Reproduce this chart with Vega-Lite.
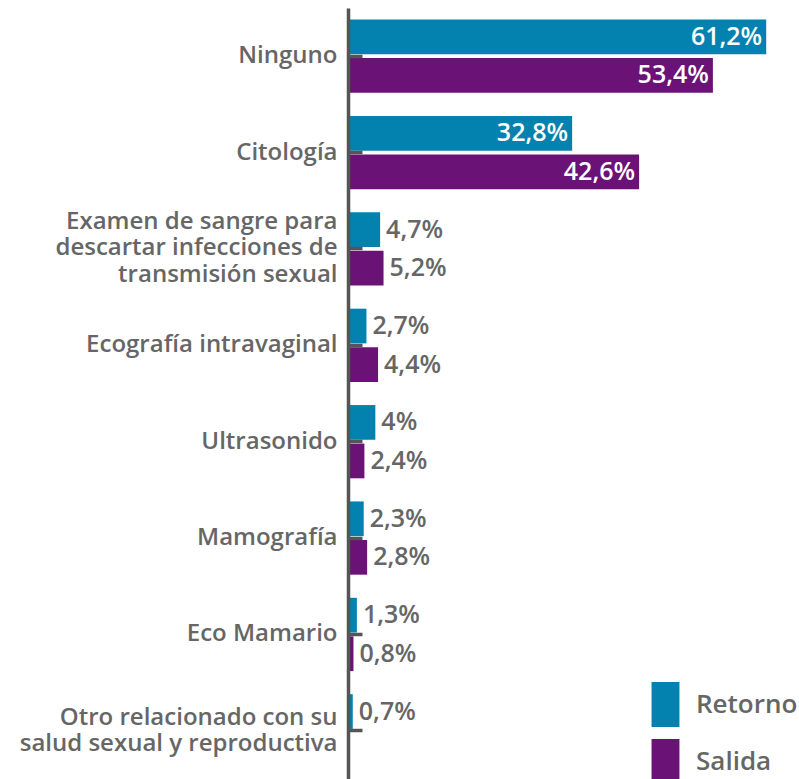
{
  "$schema": "https://vega.github.io/schema/vega-lite/v6.json",
  "width": 451,
  "height": 771,
  "autosize": "none",
  "padding": {"left": 348, "top": 8, "right": 0, "bottom": 0},
  "background": "white",
  "data": {
    "values": [
      {"categoria": "Ninguno", "serie": "Retorno", "valor": 61.2},
      {"categoria": "Ninguno", "serie": "Salida", "valor": 53.4},
      {"categoria": "Citología", "serie": "Retorno", "valor": 32.8},
      {"categoria": "Citología", "serie": "Salida", "valor": 42.6},
      {"categoria": "Examen de sangre para descartar infecciones de transmisión sexual", "serie": "Retorno", "valor": 4.7},
      {"categoria": "Examen de sangre para descartar infecciones de transmisión sexual", "serie": "Salida", "valor": 5.2},
      {"categoria": "Ecografía intravaginal", "serie": "Retorno", "valor": 2.7},
      {"categoria": "Ecografía intravaginal", "serie": "Salida", "valor": 4.4},
      {"categoria": "Ultrasonido", "serie": "Retorno", "valor": 4.0},
      {"categoria": "Ultrasonido", "serie": "Salida", "valor": 2.4},
      {"categoria": "Mamografía", "serie": "Retorno", "valor": 2.3},
      {"categoria": "Mamografía", "serie": "Salida", "valor": 2.8},
      {"categoria": "Eco Mamario", "serie": "Retorno", "valor": 1.3},
      {"categoria": "Eco Mamario", "serie": "Salida", "valor": 0.8},
      {"categoria": "Otro relacionado con su salud sexual y reproductiva", "serie": "Retorno", "valor": 0.7}
    ]
  },
  "transform": [
    {"calculate": "replace(format(datum.valor, '.1~f'), '.', ',') + '%'", "as": "etiqueta"}
  ],
  "encoding": {
    "y": {
      "field": "categoria",
      "type": "nominal",
      "sort": ["Ninguno", "Citología", "Examen de sangre para descartar infecciones de transmisión sexual", "Ecografía intravaginal", "Ultrasonido", "Mamografía", "Eco Mamario", "Otro relacionado con su salud sexual y reproductiva"],
      "scale": {"paddingInner": 0.24, "paddingOuter": 0.12},
      "axis": {
        "title": null,
        "domainColor": "#555555",
        "domainWidth": 3.5,
        "tickColor": "#555555",
        "tickWidth": 3.5,
        "tickSize": -14,
        "labelPadding": 25,
        "labelFont": "Open Sans",
        "labelFontSize": 24,
        "labelFontWeight": 600,
        "labelColor": "#666666",
        "labelLimit": 0,
        "labelLineHeight": 26.5,
        "labelOffset": {
          "condition": [
            {"test": "datum.value == 'Examen de sangre para descartar infecciones de transmisión sexual'", "value": -27},
            {"test": "datum.value == 'Otro relacionado con su salud sexual y reproductiva'", "value": -13}
          ],
          "value": 0
        },
        "zindex": 1,
        "labelExpr": "datum.label == 'Examen de sangre para descartar infecciones de transmisión sexual' ? ['Examen de sangre para', 'descartar infecciones de', 'transmisión sexual'] : datum.label == 'Otro relacionado con su salud sexual y reproductiva' ? ['Otro relacionado con su', 'salud sexual y reproductiva'] : datum.label"
      }
    },
    "yOffset": {"field": "serie", "type": "nominal", "sort": ["Retorno", "Salida"], "scale": {"paddingInner": 0.1}},
    "x": {"field": "valor", "type": "quantitative", "scale": {"domain": [0, 66]}, "axis": null}
  },
  "layer": [
    {
      "mark": {"type": "bar"},
      "encoding": {
        "color": {
          "field": "serie",
          "type": "nominal",
          "scale": {"domain": ["Retorno", "Salida"], "range": ["#0382B0", "#6A1276"]},
          "legend": {
            "title": null,
            "orient": "none",
            "legendX": 295,
            "legendY": 674,
            "padding": 0,
            "symbolType": "M-0.62,-1H0.62V1H-0.62Z",
            "symbolSize": 2025,
            "symbolStrokeWidth": 0,
            "symbolOpacity": 1,
            "labelFont": "Open Sans",
            "labelFontSize": 26,
            "labelFontWeight": 600,
            "labelColor": "#666666",
            "labelOffset": 8,
            "rowPadding": 12
          }
        }
      }
    },
    {
      "transform": [{"filter": "datum.valor > 20"}],
      "mark": {"type": "text", "align": "right", "baseline": "middle", "dx": -4, "font": "Open Sans", "fontSize": 25, "fontWeight": 600, "color": "white"},
      "encoding": {"text": {"field": "etiqueta"}}
    },
    {
      "transform": [{"filter": "datum.valor <= 20"}],
      "mark": {"type": "text", "align": "left", "baseline": "middle", "dx": 6, "font": "Open Sans", "fontSize": 25, "fontWeight": 600, "color": "#666666"},
      "encoding": {"text": {"field": "etiqueta"}}
    }
  ],
  "config": {"view": {"stroke": null}}
}
